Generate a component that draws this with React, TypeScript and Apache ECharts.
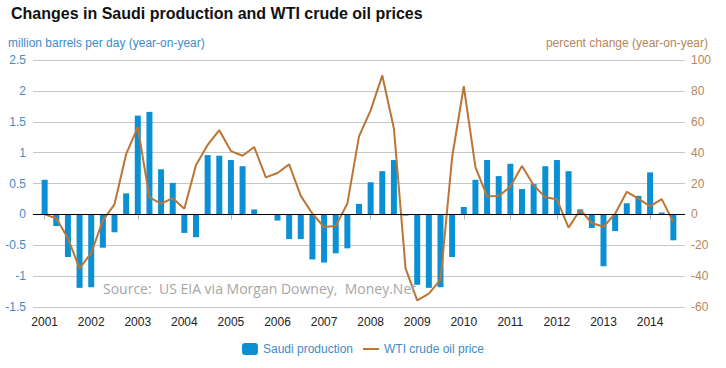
import React, { useEffect, useRef } from "react";
import * as echarts from "echarts";

const years = [2001, 2002, 2003, 2004, 2005, 2006, 2007, 2008, 2009, 2010, 2011, 2012, 2013, 2014];

// Quarterly categories 2001 Q1 .. 2014 Q3, padded by one empty slot at each end
const quarters: string[] = [];
years.forEach((y) => {
  ["Q1", "Q2", "Q3", "Q4"].forEach((q) => {
    if (!(y === 2014 && q === "Q4")) quarters.push(`${y} ${q}`);
  });
});
const categories = ["2000 Q4", ...quarters, "2014 Q4"];

// Saudi production, million barrels per day (year-on-year change)
const saudiProduction = [
  0.56, -0.19, -0.69, -1.19, // 2001
  -1.18, -0.54, -0.29, 0.34, // 2002
  1.6, 1.66, 0.73, 0.51, // 2003
  -0.3, -0.37, 0.96, 0.95, // 2004
  0.88, 0.78, 0.08, 0, // 2005
  -0.1, -0.4, -0.4, -0.73, // 2006
  -0.78, -0.63, -0.55, 0.17, // 2007
  0.52, 0.7, 0.88, -0.02, // 2008
  -1.14, -1.19, -1.18, -0.69, // 2009
  0.12, 0.56, 0.88, 0.62, // 2010
  0.82, 0.41, 0.49, 0.78, // 2011
  0.88, 0.7, 0.08, -0.22, // 2012
  -0.84, -0.27, 0.18, 0.3, // 2013
  0.68, 0.03, -0.42, // 2014
];

// WTI crude oil price, percent change (year-on-year)
const wtiPrice = [
  0, -2.5, -15.5, -35, // 2001
  -25, -4, 6.5, 39, // 2002
  56.5, 11, 7, 10.5, // 2003
  3.7, 32, 45, 54.5, // 2004
  41, 38, 43.6, 24, // 2005
  26.8, 32.4, 12, 0.4, // 2006
  -8.2, -7.6, 7, 50.5, // 2007
  67.4, 90, 55.5, -35, // 2008
  -55.7, -51.4, -42.3, 37, // 2009
  83, 30.6, 11.7, 11.9, // 2010
  18, 31.3, 18.8, 11.2, // 2011
  9.7, -8.6, 3, -5.6, // 2012
  -8, 0.4, 14.6, 10.2, // 2013
  5.2, 9.9, -5, // 2014
];

const barData = [null, ...saudiProduction, null];
const lineData = [null, ...wtiPrice, null];

const BLUE_TEXT = "#3f8bc6";
const BROWN_TEXT = "#b5865e";
const BAR_COLOR = "#0b91d3";
const LINE_COLOR = "#bb7534";
const FONT = "'Liberation Sans', Arial, sans-serif";
const LINE_ICON = "path://M0,0h16v0.01h-16z M0,5h16v2h-16z M0,12h16v0.01h-16z";

export default function App() {
  const ref = useRef<HTMLDivElement>(null);

  useEffect(() => {
    if (!ref.current) return;
    const chart = echarts.init(ref.current, null, { renderer: "svg" });
    const isQ1 = (_i: number, v: string) => v.endsWith("Q1") && v !== "2000 Q4";
    chart.setOption({
      animation: false,
      backgroundColor: "#ffffff",
      textStyle: { fontFamily: FONT },
      grid: { left: 33, right: 41, top: 60, bottom: 61, containLabel: false },
      graphic: [
        {
          type: "text",
          left: 11,
          top: 5,
          style: {
            text: "Changes in Saudi production and WTI crude oil prices",
            fill: "#111",
            font: `bold 16px ${FONT}`,
          },
        },
        {
          type: "text",
          left: 8,
          top: 37,
          style: {
            text: "million barrels per day (year-on-year)",
            fill: BLUE_TEXT,
            font: `12px ${FONT}`,
          },
        },
        {
          type: "text",
          right: 18,
          top: 37,
          style: {
            text: "percent change (year-on-year)",
            fill: BROWN_TEXT,
            font: `12px ${FONT}`,
          },
        },
        {
          type: "text",
          left: 103,
          top: 281,
          z: 10,
          style: {
            text: "Source:  US EIA via Morgan Downey,  Money.Net",
            fill: "#a6a6a6",
            font: `14px 'Open Sans', sans-serif`,
          },
        },
      ],
      legend: {
        bottom: 8,
        left: "center",
        itemWidth: 16,
        itemHeight: 12,
        itemGap: 10,
        textStyle: { color: BLUE_TEXT, fontSize: 12, fontFamily: FONT },
        data: [
          { name: "Saudi production", icon: "roundRect" },
          { name: "WTI crude oil price", icon: LINE_ICON },
        ],
      },
      xAxis: {
        type: "category",
        data: categories,
        boundaryGap: false,
        axisLine: { lineStyle: { color: "#b3b3b3", width: 1 } },
        axisTick: {
          interval: isQ1,
          length: 5,
          lineStyle: { color: "#b3b3b3" },
        },
        axisLabel: {
          interval: isQ1,
          formatter: (v: string) => v.slice(0, 4),
          color: "#222",
          fontSize: 12,
          margin: 9,
        },
        splitLine: { show: false },
      },
      yAxis: [
        {
          type: "value",
          min: -1.5,
          max: 2.5,
          interval: 0.5,
          axisLine: { show: false },
          axisTick: { show: false },
          axisLabel: { color: BLUE_TEXT, fontSize: 12, margin: 7 },
          splitLine: { lineStyle: { color: "#c8c8c8", width: 1 } },
        },
        {
          type: "value",
          min: -60,
          max: 100,
          interval: 20,
          position: "right",
          axisLine: { show: false },
          axisTick: { show: false },
          axisLabel: { color: BROWN_TEXT, fontSize: 12, margin: 6 },
          splitLine: { show: false },
        },
      ],
      series: [
        {
          name: "Saudi production",
          type: "bar",
          data: barData,
          barWidth: 6,
          itemStyle: { color: BAR_COLOR },
          markLine: {
            silent: true,
            symbol: "none",
            label: { show: false },
            lineStyle: { color: "#000", width: 1, type: "solid" },
            data: [{ yAxis: 0 }],
          },
        },
        {
          name: "WTI crude oil price",
          type: "line",
          yAxisIndex: 1,
          data: lineData,
          symbol: "none",
          connectNulls: false,
          lineStyle: { color: LINE_COLOR, width: 2 },
          itemStyle: { color: LINE_COLOR },
          z: 3,
        },
      ],
    });
    return () => chart.dispose();
  }, []);

  return <div ref={ref} style={{ width: 726, height: 368, position: "absolute", left: 0, top: 0 }} />;
}
